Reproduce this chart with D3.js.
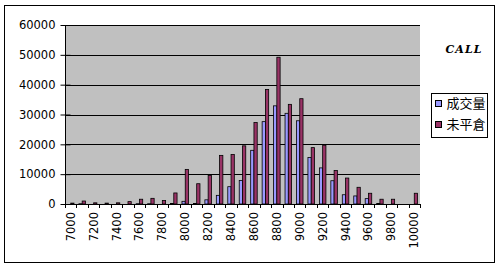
<!DOCTYPE html>
<html>
<head>
<meta charset="utf-8">
<script src="https://cdn.jsdelivr.net/npm/d3@7"></script>
<style>
  html, body { margin: 0; padding: 0; background: #fff; }
  svg { display: block; }
  .axis text { font-family: "DejaVu Sans", sans-serif; font-size: 11.5px; fill: #000; }
  .axis path, .axis line { stroke: #000; }
</style>
</head>
<body>
<svg id="chart" width="500" height="268"></svg>
<script>
// ── Data ──
const strikes = [7000, 7100, 7200, 7300, 7400, 7500, 7600, 7700, 7800, 7900,
  8000, 8100, 8200, 8300, 8400, 8500, 8600, 8700, 8800, 8900,
  9000, 9100, 9200, 9300, 9400, 9500, 9600, 9700, 9800, 9900, 10000];
const volume = [0, 100, 0, 0, 0, 0, 100, 100, 0, 200,
  900, 200, 1400, 2900, 5800, 7900, 18000, 27600, 32900, 30400,
  27900, 15600, 12100, 7800, 3100, 2700, 1800, 200, 0, 0, 0];
const openInterest = [300, 1000, 400, 300, 400, 800, 1600, 1900, 1200, 3700,
  11600, 6800, 9600, 16300, 16600, 19500, 27300, 38400, 49200, 33400,
  35300, 18900, 19700, 11200, 8700, 5600, 3600, 1600, 1600, 0, 3600];
const seriesNames = ["成交量", "未平倉"];
const yTicks = [0, 10000, 20000, 30000, 40000, 50000, 60000];
const xLabels = [7000, 7200, 7400, 7600, 7800, 8000, 8200, 8400, 8600, 8800,
  9000, 9200, 9400, 9600, 9800, 10000];

const colors = ["#9999ff", "#993366"];

// ── Layout ──
const svg = d3.select("#chart");
const plot = { left: 65, right: 420, top: 25, bottom: 204 };

// chart border
svg.append("rect")
  .attr("x", 4.5).attr("y", 5.5)
  .attr("width", 490).attr("height", 257)
  .attr("fill", "#fff").attr("stroke", "#000");

// ── Scales ──
const x0 = d3.scaleBand()
  .domain(strikes)
  .range([plot.left, plot.right])
  .paddingInner(0.43)
  .paddingOuter(0.215);

const x1 = d3.scaleBand()
  .domain([0, 1])
  .range([0, x0.bandwidth()]);

const y = d3.scaleLinear()
  .domain([0, 60000])
  .range([plot.bottom, plot.top]);

// plot area
svg.append("rect")
  .attr("x", plot.left).attr("y", plot.top)
  .attr("width", plot.right - plot.left).attr("height", plot.bottom - plot.top)
  .attr("fill", "#c0c0c0");

// gridlines
svg.append("g")
  .selectAll("line")
  .data(yTicks.slice(1))
  .join("line")
  .attr("x1", plot.left).attr("x2", plot.right)
  .attr("y1", d => Math.round(y(d)) + 0.5)
  .attr("y2", d => Math.round(y(d)) + 0.5)
  .attr("stroke", "#000");

// ── Bars ──
const rows = strikes.map((s, i) => ({ strike: s, values: [volume[i], openInterest[i]] }));

svg.append("g")
  .selectAll("g")
  .data(rows)
  .join("g")
  .attr("transform", d => `translate(${x0(d.strike)},0)`)
  .selectAll("rect")
  .data(d => d.values.map((v, k) => ({ k, v })).filter(e => e.v > 0))
  .join("rect")
  .attr("x", d => x1(d.k))
  .attr("y", d => y(d.v))
  .attr("width", x1.bandwidth())
  .attr("height", d => plot.bottom - y(d.v))
  .attr("fill", d => colors[d.k])
  .attr("stroke", "#000")
  .attr("stroke-width", 0.8);

// ── Axes ──
const yAxis = svg.append("g")
  .attr("class", "axis")
  .attr("transform", `translate(${plot.left + 0.5},0)`)
  .call(d3.axisLeft(y).tickValues(yTicks).tickSize(5).tickPadding(5).tickFormat(d3.format("d")));
yAxis.selectAll(".tick line").attr("x2", 5).attr("x1", -5);
yAxis.select(".domain").attr("d", `M0,${plot.top}V${plot.bottom}`);

// x axis baseline + ticks at category boundaries
const xAxis = svg.append("g").attr("class", "axis");
xAxis.append("line")
  .attr("x1", plot.left).attr("x2", plot.right)
  .attr("y1", plot.bottom + 0.5).attr("y2", plot.bottom + 0.5);
xAxis.selectAll(".bt")
  .data(strikes.concat([null]))
  .join("line")
  .attr("class", "bt")
  .attr("x1", (d, i) => Math.round(plot.left + i * x0.step()) + 0.5)
  .attr("x2", (d, i) => Math.round(plot.left + i * x0.step()) + 0.5)
  .attr("y1", plot.bottom).attr("y2", plot.bottom + 4);

xAxis.selectAll("text")
  .data(xLabels)
  .join("text")
  .attr("transform", d => `translate(${x0(d) + x0.bandwidth() / 2},212) rotate(-90)`)
  .attr("text-anchor", "end")
  .attr("dy", "0.35em")
  .text(d => d);

// ── Title ──
svg.append("text")
  .attr("x", 464).attr("y", 53)
  .attr("text-anchor", "middle")
  .style("font-family", "'DejaVu Serif', serif")
  .style("font-style", "italic")
  .style("font-weight", "bold")
  .style("font-size", "11px")
  .style("letter-spacing", "1px")
  .text("CALL");

// ── Legend ──
const legend = svg.append("g").attr("transform", "translate(431.5,93.5)");
legend.append("rect")
  .attr("width", 56).attr("height", 44)
  .attr("fill", "#fff").attr("stroke", "#000");
const items = legend.selectAll("g")
  .data(seriesNames)
  .join("g")
  .attr("transform", (d, i) => `translate(4,${7 + i * 21})`);
items.append("rect")
  .attr("width", 6).attr("height", 6)
  .attr("fill", (d, i) => colors[i])
  .attr("stroke", "#000");
items.append("text")
  .attr("x", 11).attr("y", 3)
  .attr("dy", "0.38em")
  .style("font-family", "'Noto Sans CJK TC', sans-serif")
  .style("font-size", "13px")
  .text(d => d);
</script>
</body>
</html>
